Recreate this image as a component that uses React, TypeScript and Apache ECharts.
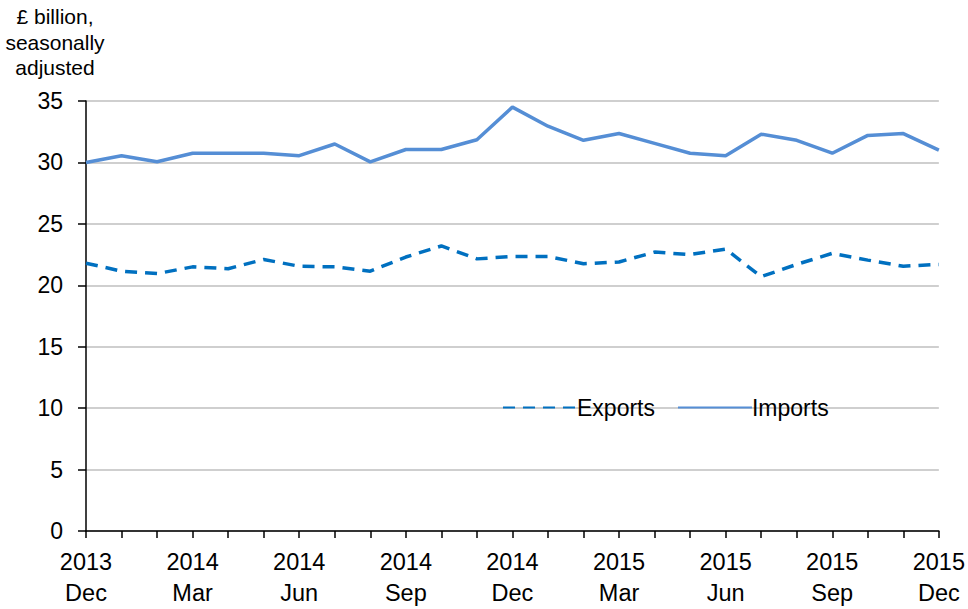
import React, { useEffect, useRef } from "react";
import * as echarts from "echarts";

const months = [
  "2013\nDec", "2014\nJan", "2014\nFeb", "2014\nMar", "2014\nApr", "2014\nMay", "2014\nJun",
  "2014\nJul", "2014\nAug", "2014\nSep", "2014\nOct", "2014\nNov", "2014\nDec",
  "2015\nJan", "2015\nFeb", "2015\nMar", "2015\nApr", "2015\nMay", "2015\nJun",
  "2015\nJul", "2015\nAug", "2015\nSep", "2015\nOct", "2015\nNov", "2015\nDec",
];

const exportsData = [
  21.8, 21.15, 20.95, 21.5, 21.35, 22.1, 21.55, 21.5, 21.15, 22.3, 23.2, 22.15, 22.35,
  22.35, 21.75, 21.9, 22.7, 22.5, 22.95, 20.7, 21.7, 22.6, 22.05, 21.55, 21.7,
];

const importsData = [
  30.0, 30.55, 30.05, 30.75, 30.75, 30.75, 30.55, 31.5, 30.05, 31.05, 31.05, 31.85, 34.5,
  32.95, 31.8, 32.35, 31.55, 30.75, 30.55, 32.3, 31.8, 30.75, 32.2, 32.35, 31.0,
];

const yTitle = "£ billion,\nseasonally\nadjusted";

export default function App() {
  const ref = useRef<HTMLDivElement>(null);
  useEffect(() => {
    if (!ref.current) return;
    const chart = echarts.init(ref.current, null, { renderer: "svg" });
    const font = "'Liberation Sans', Arial, sans-serif";
    chart.setOption({
      animation: false,
      backgroundColor: "#ffffff",
      textStyle: { fontFamily: font },
      graphic: [
        {
          type: "text",
          x: 55,
          y: 4,
          style: {
            text: yTitle,
            fontFamily: font,
            fontSize: 21,
            lineHeight: 25.5,
            fill: "#000000",
            align: "center",
            verticalAlign: "top",
          },
        },
      ],
      legend: {
        left: 497,
        top: 391,
        itemWidth: 74,
        itemHeight: 14,
        itemGap: 22,
        itemStyle: { opacity: 0 },
        textStyle: { fontFamily: font, fontSize: 23, color: "#000000", padding: [0, 0, 0, -5] },
        data: ["Exports", "Imports"],
      },
      grid: { left: 86, right: 22, top: 101, bottom: 78, containLabel: false },
      xAxis: {
        type: "category",
        data: months,
        boundaryGap: false,
        axisLine: { lineStyle: { color: "#000000", width: 1.5 } },
        axisTick: { show: true, interval: 0, length: 7, lineStyle: { color: "#000000", width: 1.5 } },
        axisLabel: {
          interval: 2,
          fontFamily: font,
          fontSize: 23.5,
          lineHeight: 31,
          color: "#000000",
          margin: 15,
          showMaxLabel: true,
        },
        splitLine: { show: false },
      },
      yAxis: {
        type: "value",
        min: 0,
        max: 35,
        interval: 5,
        axisLine: { show: true, lineStyle: { color: "#000000", width: 1.5 } },
        axisTick: { show: true, length: 8, lineStyle: { color: "#000000", width: 1.5 } },
        axisLabel: { fontFamily: font, fontSize: 23, color: "#000000", margin: 23 },
        splitLine: { show: true, lineStyle: { color: "#BFBFBF", width: 1.5 } },
      },
      series: [
        {
          name: "Exports",
          type: "line",
          data: exportsData,
          symbol: "none",
          color: "#0070C0",
          lineStyle: { color: "#0070C0", width: 3.5, type: [12, 8] },
        },
        {
          name: "Imports",
          type: "line",
          data: importsData,
          symbol: "none",
          color: "#558ED5",
          lineStyle: { color: "#558ED5", width: 3.5 },
        },
      ],
    });
    return () => chart.dispose();
  }, []);
  return (
    <div
      ref={ref}
      style={{ position: "fixed", left: 0, top: 0, width: 968, height: 609 }}
    />
  );
}
